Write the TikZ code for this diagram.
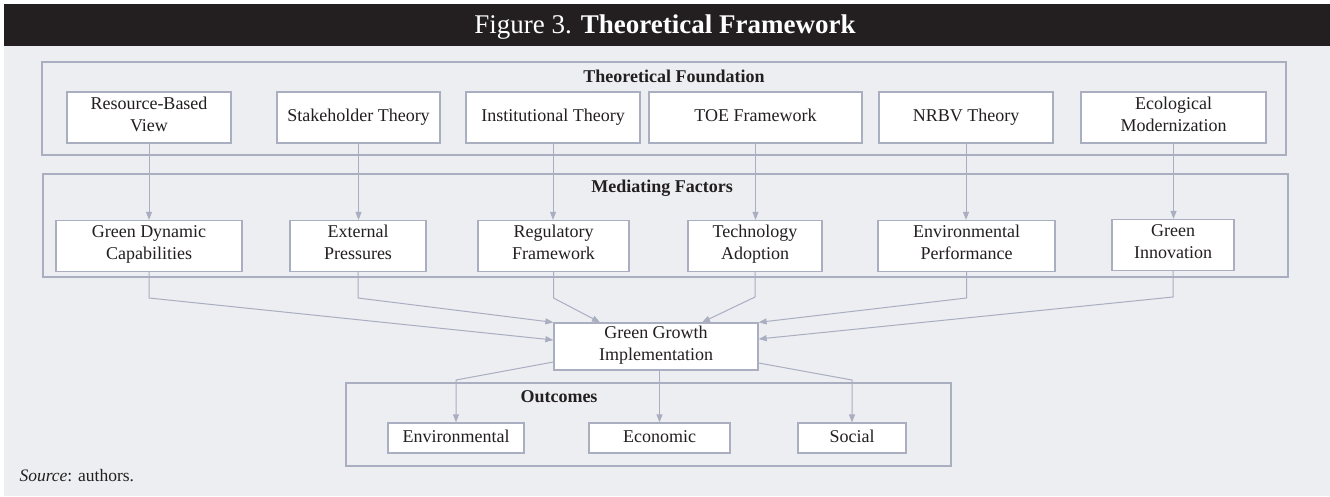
\documentclass[tikz,border=0pt]{standalone}
\usepackage{fontspec}
\setmainfont{Liberation Serif}
\usetikzlibrary{arrows.meta}

\definecolor{framebg}{HTML}{EDEEF2}
\definecolor{edgegrey}{HTML}{A9AEC0}
\definecolor{barblack}{HTML}{231F20}
\definecolor{inkdark}{HTML}{231F20}

\begin{document}
\begin{tikzpicture}[x=1pt, y=-1pt,
        every node/.style={font=\fontsize{18}{22}\selectfont, text=inkdark},
        box/.style={draw=edgegrey, line width=1.3pt, fill=white, align=center, inner sep=0pt, minimum height=51,
            execute at begin node=\strut, execute at end node=\strut},
        group/.style={draw=edgegrey, line width=1.3pt},
        grouplabel/.style={font=\fontsize{18}{22}\selectfont\bfseries},
        link/.style={draw=edgegrey, line width=1pt, -{Triangle[length=8pt, width=6pt]}},
    ]
    \useasboundingbox (0,0) rectangle (1330,496);
    \fill[framebg] (4,46) rectangle (1330,496);
    \fill[barblack] (4,4) rectangle (1330,46);
    \node[text=white, font=\fontsize{27}{30}\selectfont] (title) at (665,27) {Figure 3. \textbf{Theoretical Framework}};

    % clusters
    \draw[group] (42,62) rectangle (1286,155);
    \node[grouplabel] (foundlabel) at (674,76) {Theoretical Foundation};
    \draw[group] (43,174) rectangle (1288,277);
    \node[grouplabel] (medlabel) at (662,188) {Mediating Factors};
    \draw[group] (346,383) rectangle (951,466);
    \node[grouplabel] (outlabel) at (559,397) {Outcomes};

    % theories
    \node[box, minimum width=164] (rbv) at (149,117.5) {Resource-Based\\View};
    \node[box, minimum width=163] (stake) at (358.5,117.5) {Stakeholder Theory};
    \node[box, minimum width=174] (inst) at (553,117.5) {Institutional Theory};
    \node[box, minimum width=213] (toe) at (755.5,117.5) {TOE Framework};
    \node[box, minimum width=174] (nrbv) at (966,117.5) {NRBV Theory};
    \node[box, minimum width=185] (eco) at (1173.5,117.5) {Ecological\\Modernization};

    % mediators
    \node[box, minimum width=186] (gdc) at (149,246) {Green Dynamic\\Capabilities};
    \node[box, minimum width=136] (ext) at (358,246) {External\\Pressures};
    \node[box, minimum width=151] (reg) at (553.5,246) {Regulatory\\Framework};
    \node[box, minimum width=134] (tech) at (755,246) {Technology\\Adoption};
    \node[box, minimum width=177] (envp) at (966.5,246) {Environmental\\Performance};
    \node[box, minimum width=122] (ginn) at (1173,245) {Green\\Innovation};

    \node[box, minimum width=204, minimum height=47] (gg) at (656,346.5) {Green Growth\\Implementation};

    % outcomes
    \node[box, minimum width=136, minimum height=30] (env) at (456,438) {Environmental};
    \node[box, minimum width=141, minimum height=30] (econ) at (659.5,438) {Economic};
    \node[box, minimum width=108, minimum height=30] (soc) at (852,438) {Social};

    \foreach \a/\b in {rbv/gdc, stake/ext, inst/reg, toe/tech, nrbv/envp, eco/ginn}
        \draw[link] (\a.south) -- (\a.south |- \b.north);

    \draw[link] (gdc.south) -- (gdc.south |- 0,298) -- (gg.west |- 0,340);
    \draw[link] (ext.south) -- (ext.south |- 0,298) -- (gg.north west);
    \draw[link] (reg.south) -- (reg.south |- 0,298) -- (gg.north -| 600,0);
    \draw[link] (tech.south) -- (tech.south |- 0,297) -- (gg.north -| 702,0);
    \draw[link] (envp.south) -- (envp.south |- 0,298) -- (gg.north east);
    \draw[link] (ginn.south) -- (ginn.south |- 0,297) -- (gg.east |- 0,339);

    \draw[link] (gg.west |- 0,362) -- (env.north |- 0,380) -- (env.north);
    \draw[link] (gg.south -| econ.north) -- (econ.north);
    \draw[link] (gg.east |- 0,363) -- (soc.north |- 0,380) -- (soc.north);

    \node[anchor=west, font=\fontsize{17.5}{20}\selectfont] (source) at (16,476) {\textit{Source}: authors.};
\end{tikzpicture}
\end{document}
